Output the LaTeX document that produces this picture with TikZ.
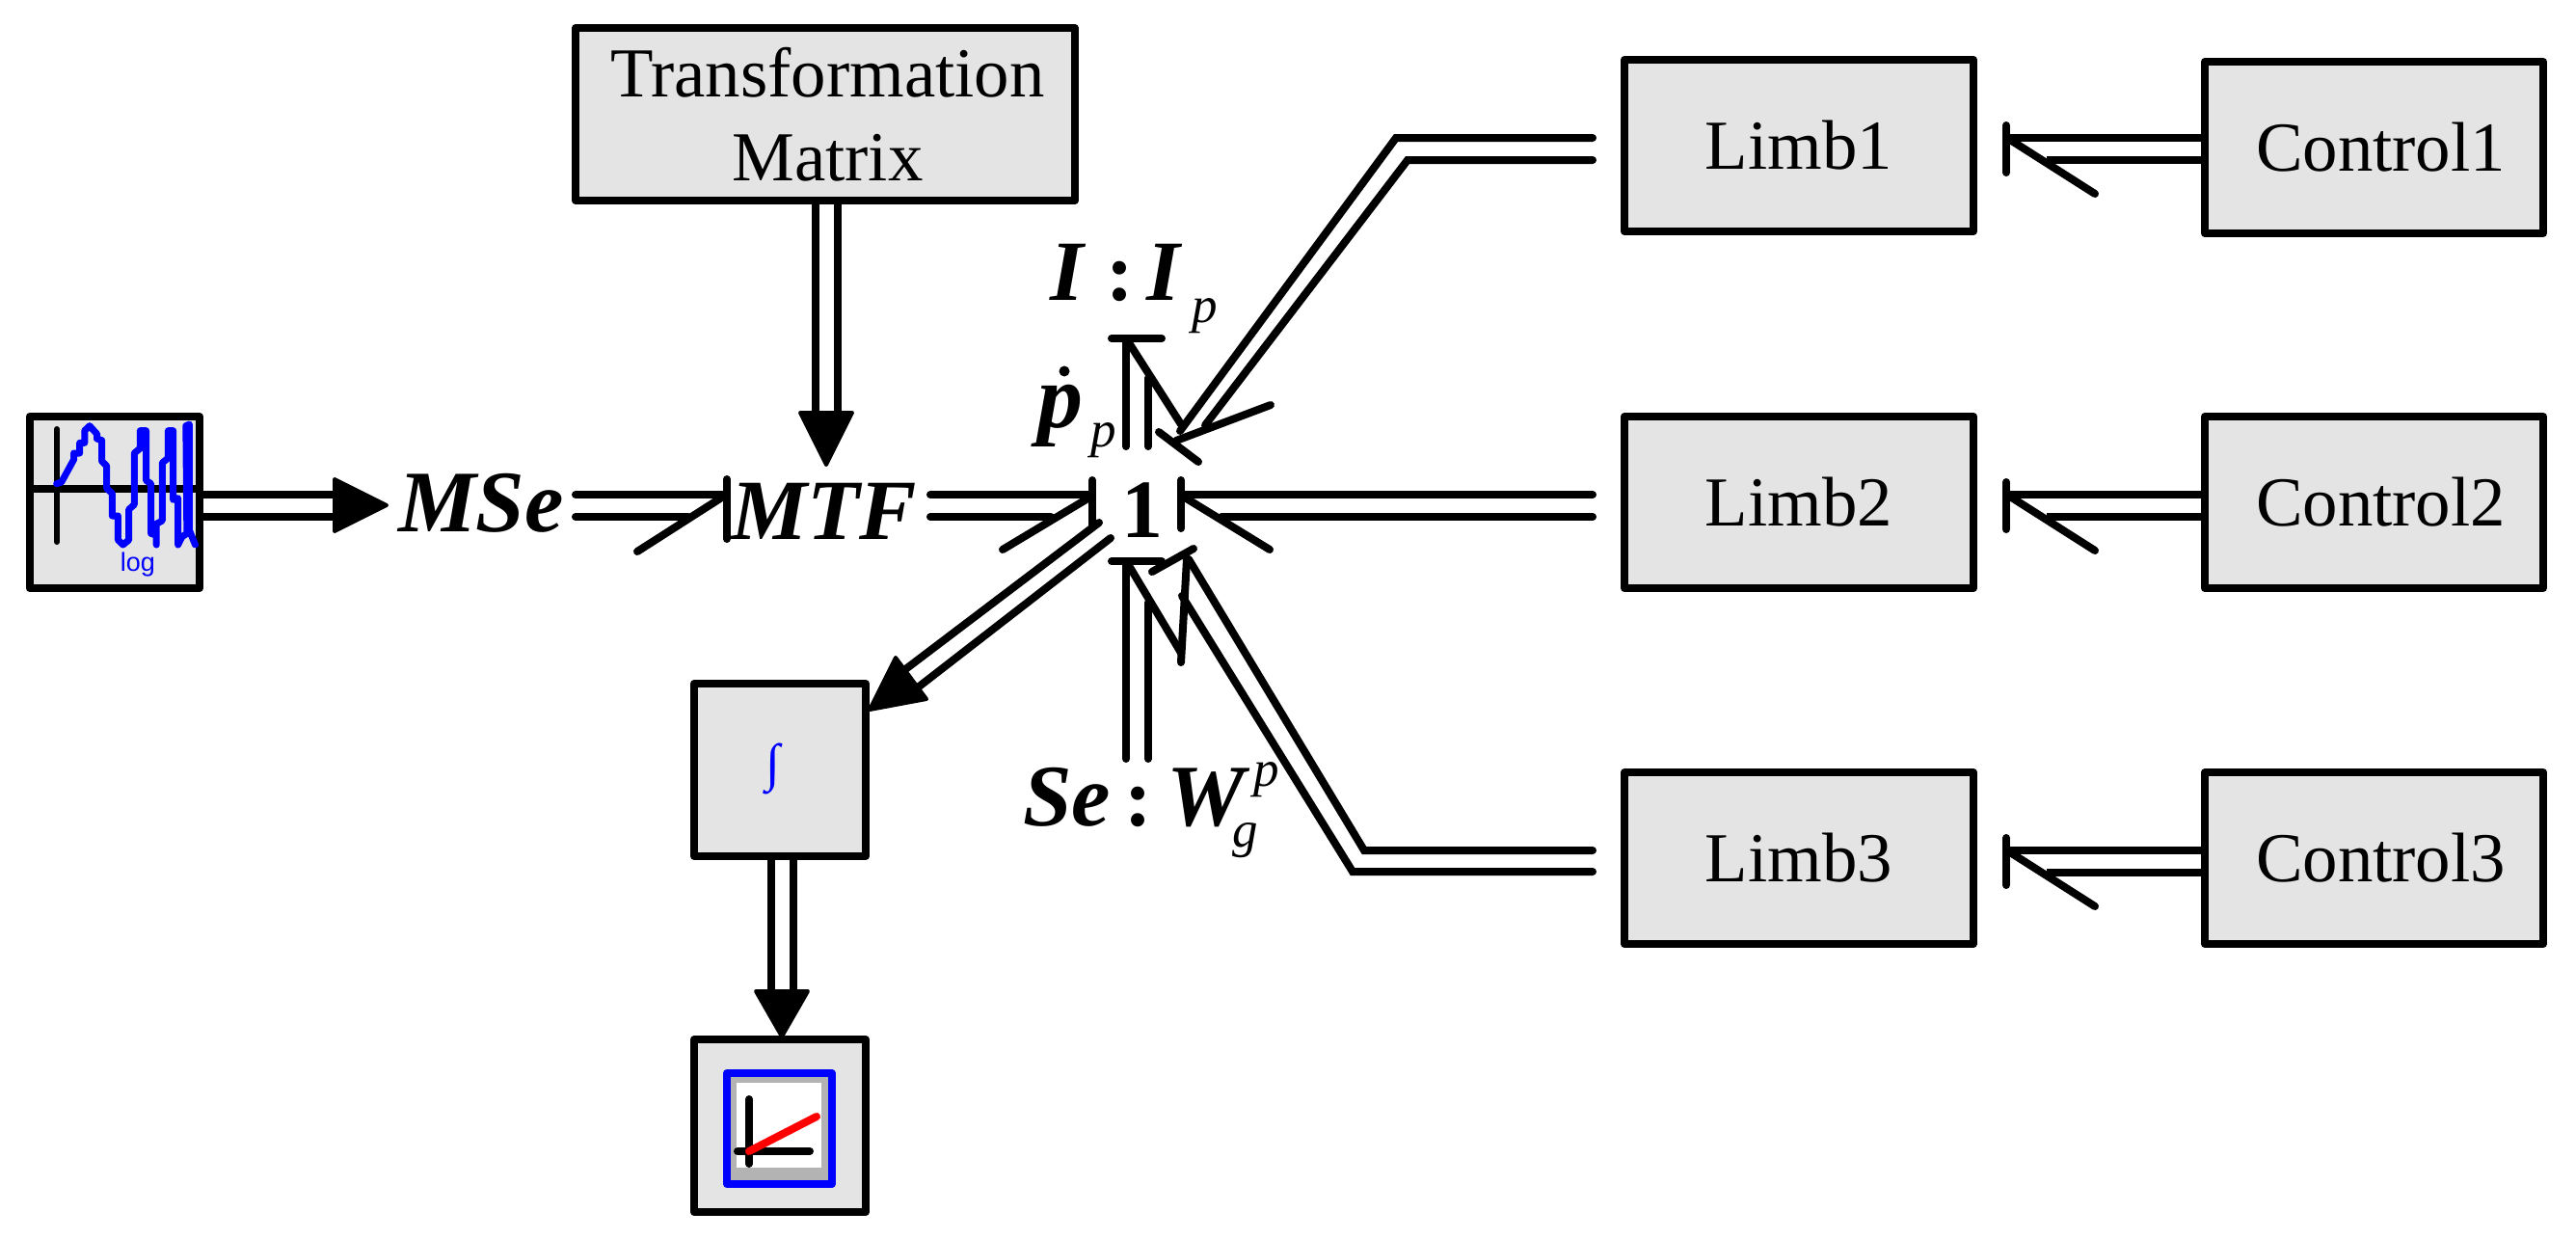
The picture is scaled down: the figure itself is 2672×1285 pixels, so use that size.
\documentclass[tikz,border=0pt]{standalone}
\usepackage{fontspec}
\setmainfont{Liberation Serif}
\newfontfamily\arialf{Liberation Sans}
\definecolor{boxgray}{HTML}{E4E4E4}
\definecolor{plotgray}{HTML}{B3B3B3}
\definecolor{pureblue}{HTML}{0000FF}
\newcommand{\cc}[3]{\coordinate (#1) at (#2,#3);}
\tikzset{
  blockbox/.style={draw=black,fill=boxgray,line width=4pt,line join=round,inner sep=0pt,outer sep=0pt,align=center,font=\fontsize{36.4}{43.5}\selectfont},
  bond/.style={draw=black,line width=4pt,line cap=round,line join=miter},
  head/.style={draw=black,fill=black,line width=2pt,line join=round},
  big/.style={inner sep=0pt,outer sep=0pt,anchor=base west,font=\fontsize{45.5}{45.5}\selectfont\bfseries\itshape},
  one/.style={inner sep=0pt,outer sep=0pt,anchor=base,font=\fontsize{43}{43}\selectfont\bfseries},
  small/.style={inner sep=0pt,outer sep=0pt,anchor=base west,font=\fontsize{26.5}{26.5}\selectfont\itshape}
}
\begin{document}
\begin{tikzpicture}[x=0.5pt,y=-0.5pt]
\useasboundingbox (0,0) rectangle (2672,1285);
% blocks
\node[blockbox,minimum width=88.25pt,minimum height=89pt] (src) at (118.75,521) {};
\node[blockbox,minimum width=259pt,minimum height=89.5pt] (tm) at (856,118.5) {\hspace*{2.5pt}Transformation\\\hspace*{2.5pt}Matrix};
\node[blockbox,minimum width=181pt,minimum height=89pt] (limbA) at (1866,151) {Limb1};
\node[blockbox,minimum width=181pt,minimum height=89pt] (limbB) at (1866,521) {Limb2};
\node[blockbox,minimum width=181pt,minimum height=89pt] (limbC) at (1866,890) {Limb3};
\node[blockbox,minimum width=175.5pt,minimum height=89pt] (ctlA) at (2462.5,153) {\hspace*{7pt}Control1};
\node[blockbox,minimum width=175.5pt,minimum height=89pt] (ctlB) at (2462.5,521) {\hspace*{7pt}Control2};
\node[blockbox,minimum width=175.5pt,minimum height=89pt] (ctlC) at (2462.5,890) {\hspace*{7pt}Control3};
\node[blockbox,minimum width=89pt,minimum height=89.5pt] (intg) at (809,798.5) {};
\node[blockbox,minimum width=89pt,minimum height=89.5pt] (scope) at (809,1167.5) {};
% source icon
\cc{sv1}{59}{445}\cc{sv2}{59}{562}
\draw[line width=3pt,line cap=round] (sv1) -- (sv2);
\draw[line width=4pt] (src.west |- 0,507) -- (src.east |- 0,507);
\begin{scope}[x=0.2551pt,y=-0.16667pt,yshift=-200pt]
\draw[pureblue,line width=3.5pt,line join=round,line cap=round] (115,305)--(125,300)--(150,230)--(150,210)--(162,210)--(162,178)--(172,178)--(172,140)--(182,125)--(197,150)--(197,165)--(207,170)--(207,235)--(217,250)--(217,320)--(228,335)--(228,405)--(240,405)--(240,480)--(250,495)--(262,480)--(262,385)--(273,370)--(273,210)--(285,195)--(285,140)--(297,140)--(297,295)--(307,305)--(307,460)--(318,465)--(318,495)--(318,430)--(330,420)--(330,240)--(342,225)--(342,140)--(352,140)--(352,355)--(362,350)--(362,495)--(370,470)--(380,460)--(378,125)--(385,120)--(385,450)--(397,495);
\end{scope}
\node[inner sep=0pt,anchor=base,text=pureblue,font=\arialf\fontsize{13.5}{13.5}\selectfont] (logt) at (143,592) {log};
% integrator symbol
\node[inner sep=0pt,text=pureblue,font=\fontsize{27}{27}\selectfont] (intsym) at (802,797) {∫};
% scope icon
\draw[draw=pureblue,fill=plotgray,line width=4pt,line join=round] (754,1113) rectangle (863,1228);
\fill[white] (764,1123) rectangle (852,1211);
\draw[line width=4pt,line cap=round] (777,1140) -- (777,1207);
\draw[line width=4pt,line cap=round] (765,1194) -- (840,1194);
\draw[red,line width=4pt,line cap=round] (777,1194) -- (847,1158);
% labels
\node[big] (mse) at (413,551) {MSe};
\node[big,font=\fontsize{44.5}{44.5}\selectfont\bfseries\itshape] (mtf) at (758,559) {MTF};
\node[one] (junc) at (1185,557) {1};
\node[big,font=\fontsize{44.5}{44.5}\selectfont\bfseries\itshape] (ia) at (1089,311) {I};
\node[one] (ic) at (1162,311) {:};
\node[big,font=\fontsize{44.5}{44.5}\selectfont\bfseries\itshape] (ib) at (1189,311) {I};
\node[small] (ip) at (1236,334) {p};
\node[big,font=\fontsize{47}{47}\selectfont\bfseries\itshape] (pd) at (1076,443) {p};
\fill (1104,385) circle (5.5);
\node[small] (pp) at (1131,463) {p};
\node[big] (se) at (1061,856) {Se};
\node[one] (sc) at (1181,856) {:};
\node[big] (wg) at (1210,856) {W};
\node[small] (wp) at (1300,815) {p};
\node[small] (wq) at (1278,878) {g};
% source -> MSe
\cc{a1}{347}{513}\cc{a2}{347}{536}\cc{a3}{347}{497}\cc{a4}{401}{524}\cc{a5}{347}{551}
\draw[bond,line cap=butt] (src.east |- a1) -- (a1);
\draw[bond,line cap=butt] (src.east |- a2) -- (a2);
\draw[head] (a3) -- (a4) -- (a5) -- cycle;
% MSe -> MTF
\cc{b1}{597}{513}\cc{b2}{754}{513}\cc{b3}{597}{536}\cc{b4}{714}{536}
\cc{b5}{754}{497}\cc{b6}{754}{559}\cc{b7}{747}{517}\cc{b8}{661}{572}
\draw[bond] (b1) -- (b2); \draw[bond] (b3) -- (b4);
\draw[bond] (b5) -- (b6); \draw[bond] (b7) -- (b8);
% MTF -> 1
\cc{c1}{965}{513}\cc{c2}{1133}{513}\cc{c3}{965}{536}\cc{c4}{1090}{536}
\cc{c5}{1133}{498}\cc{c6}{1133}{547}\cc{c7}{1130}{516}\cc{c8}{1040}{570}
\draw[bond] (c1) -- (c2); \draw[bond] (c3) -- (c4);
\draw[bond] (c5) -- (c6); \draw[bond] (c7) -- (c8);
% Limb2 -> 1
\cc{d1}{1652}{513}\cc{d2}{1225}{513}\cc{d3}{1652}{536}\cc{d4}{1267}{536}
\cc{d5}{1225}{498}\cc{d6}{1225}{548}\cc{d7}{1229}{516}\cc{d8}{1317}{570}
\draw[bond] (d1) -- (d2); \draw[bond] (d3) -- (d4);
\draw[bond] (d5) -- (d6); \draw[bond] (d7) -- (d8);
% Limb1 -> 1
\cc{e1}{1652}{143}\cc{e2}{1448}{143}\cc{e3}{1224}{447}\cc{e4}{1652}{166}\cc{e5}{1460}{166}\cc{e6}{1250}{441}
\cc{e7}{1220}{457}\cc{e8}{1318}{420}\cc{e9}{1202}{448}\cc{e10}{1243}{479}
\draw[bond] (e1) -- (e2) -- (e3); \draw[bond] (e4) -- (e5) -- (e6);
\draw[bond] (e7) -- (e8); \draw[bond] (e9) -- (e10);
% Limb3 -> 1
\cc{f1}{1652}{882}\cc{f2}{1415}{882}\cc{f3}{1233}{580}\cc{f4}{1652}{904}\cc{f5}{1403}{904}\cc{f6}{1226}{618}
\cc{f7}{1231}{580}\cc{f8}{1225}{687}\cc{f9}{1195}{593}\cc{f10}{1238}{569}
\draw[bond] (f1) -- (f2) -- (f3); \draw[bond] (f4) -- (f5) -- (f6);
\draw[bond] (f7) -- (f8); \draw[bond] (f9) -- (f10);
% I element
\cc{g1}{1153}{351}\cc{g2}{1205}{351}\cc{g3}{1168}{351}\cc{g4}{1168}{463}\cc{g5}{1191}{392}\cc{g6}{1191}{463}\cc{g7}{1170}{354}\cc{g8}{1225}{440}
\draw[bond] (g1) -- (g2); \draw[bond] (g3) -- (g4); \draw[bond] (g5) -- (g6); \draw[bond] (g7) -- (g8);
% Se element
\cc{h1}{1153}{582}\cc{h2}{1205}{582}\cc{h3}{1168}{582}\cc{h4}{1168}{787}\cc{h5}{1191}{625}\cc{h6}{1191}{787}\cc{h7}{1170}{585}\cc{h8}{1225}{677}
\draw[bond] (h1) -- (h2); \draw[bond] (h3) -- (h4); \draw[bond] (h5) -- (h6); \draw[bond] (h7) -- (h8);
% 1 -> integrator
\cc{i1}{1140}{542}\cc{i2}{938}{695}\cc{i3}{1152}{558}\cc{i4}{952}{713}\cc{i5}{929}{682}\cc{i6}{902}{736}\cc{i7}{961}{725}
\draw[bond] (i1) -- (i2); \draw[bond] (i3) -- (i4);
\draw[head] (i5) -- (i6) -- (i7) -- cycle;
% Transformation matrix -> MTF
\cc{j1}{846}{428}\cc{j2}{869}{428}\cc{j3}{830}{428}\cc{j4}{857}{482}\cc{j5}{884}{428}
\draw[bond,line cap=butt] (tm.south -| j1) -- (j1);
\draw[bond,line cap=butt] (tm.south -| j2) -- (j2);
\draw[head] (j3) -- (j4) -- (j5) -- cycle;
% integrator -> scope
\cc{k1}{800}{1028}\cc{k2}{823}{1028}\cc{k3}{784}{1028}\cc{k4}{811}{1075}\cc{k5}{838}{1028}
\draw[bond,line cap=butt] (intg.south -| k1) -- (k1);
\draw[bond,line cap=butt] (intg.south -| k2) -- (k2);
\draw[head] (k3) -- (k4) -- (k5) -- cycle;
% control -> limb
\foreach \n/\lim/\ctl/\dy in {A/limbA/ctlA/0,B/limbB/ctlB/370,C/limbC/ctlC/739}{
  \cc{m1}{2081}{143+\dy}\cc{m2}{2123}{166+\dy}\cc{m3}{2081}{130+\dy}\cc{m4}{2081}{179+\dy}\cc{m5}{2085}{145+\dy}\cc{m6}{2173}{201+\dy}
  \draw[bond,line cap=butt] (\ctl.west |- m1) -- (m1);
  \draw[bond,line cap=butt] (\ctl.west |- m2) -- (m2);
  \draw[bond] (m3) -- (m4); \draw[bond] (m5) -- (m6);
}
\end{tikzpicture}
\end{document}
